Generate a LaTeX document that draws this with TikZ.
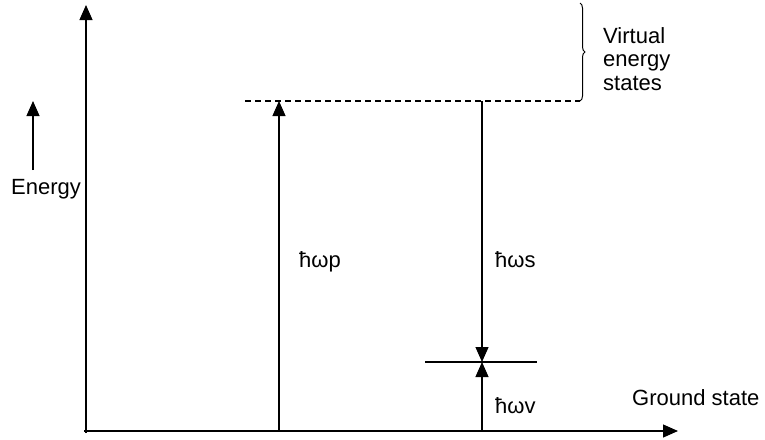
\documentclass[tikz,border=0pt]{standalone}
\usepackage{fontspec}
\setmainfont{Liberation Sans}
\usetikzlibrary{arrows.meta,decorations.pathreplacing}
\tikzset{
  ln/.style={line width=1.2pt, draw=black},
  arr/.style={ln, -{Triangle[length=15pt,width=13pt]}},
  lbl/.style={inner sep=0pt, anchor=base west, font=\fontsize{22}{24}\selectfont, text=black},
}
\begin{document}
\begin{tikzpicture}[x=1pt,y=-1pt]
\useasboundingbox (0,0) rectangle (765,439);
% coordinates
\coordinate (yb) at (86,433);
\coordinate (yt) at (86,5);
\coordinate (xl) at (84,431);
\coordinate (xr) at (678,431);
\coordinate (eb) at (33,170);
\coordinate (et) at (33,101);
\coordinate (dl) at (245,101);
\coordinate (dr) at (580,101);
\coordinate (bt) at (580,3);
\coordinate (pb) at (279,431);
\coordinate (pt) at (279,101);
\coordinate (st) at (482,101);
\coordinate (sv) at (482,362);
\coordinate (vb) at (482,431);
\coordinate (hl) at (425,362);
\coordinate (hr) at (537,362);
% axes
\draw[arr] (yb) -- (yt);
\draw[arr] (xl) -- (xr);
\draw[arr] (eb) -- (et);
% virtual level and brace
\draw[ln, dash pattern=on 6pt off 4pt] (dl) -- (dr);
\draw[line width=1pt, draw=black, decorate, decoration={brace, amplitude=5pt}] (bt) -- (dr);
% vibrational level
\draw[ln] (hl) -- (hr);
% transitions
\draw[arr] (pb) -- (pt);
\draw[arr] (st) -- (sv);
\draw[arr] (vb) -- (sv);
% labels
\node[lbl] (energy) at (11,194) {Energy};
\node[lbl] (ground) at (632,405) {Ground state};
\node[inner sep=0pt, anchor=north west, align=left, font=\fontsize{22}{23.5}\selectfont, text=black] (virt) at (603,27) {Virtual\\energy\\states};
\node[lbl] (wp) at (299,267) {ħωp};
\node[lbl] (ws) at (495,267) {ħωs};
\node[lbl] (wv) at (495,413) {ħωv};
\end{tikzpicture}
\end{document}
